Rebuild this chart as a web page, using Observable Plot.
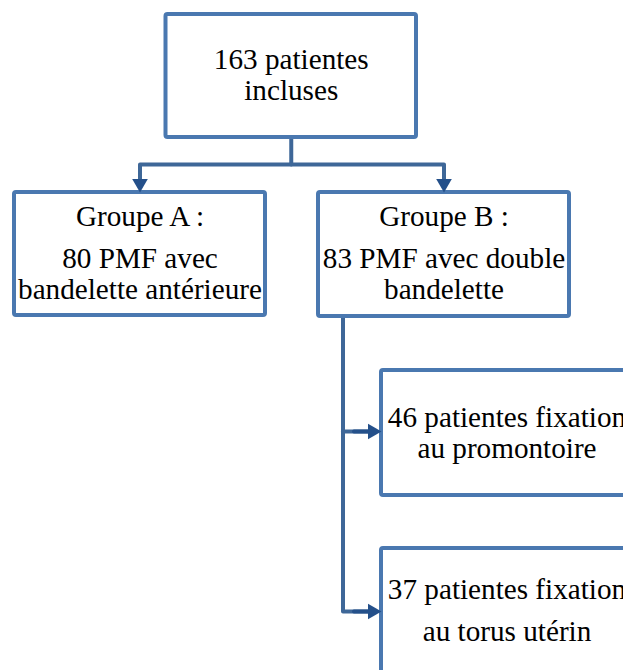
<!DOCTYPE html>
<html><head><meta charset="utf-8">
<script src="https://cdn.jsdelivr.net/npm/d3@7"></script>
<script src="https://cdn.jsdelivr.net/npm/@observablehq/plot@0.6"></script>
<style>body{margin:0;background:#fff}</style></head>
<body><div id="chart"></div>
<script>
// Data: box identifiers and their text lines
const boxIds = ["root", "A", "B", "C", "D"];
const boxLines = [
  ["163 patientes", "incluses"],
  ["Groupe A :", "80 PMF avec", "bandelette antérieure"],
  ["Groupe B :", "83 PMF avec double", "bandelette"],
  ["46 patientes fixation", "au promontoire"],
  ["37 patientes fixation", "au torus utérin"]
];
const links = [["root", "A"], ["root", "B"], ["B", "C"], ["B", "D"]];

// Layout (pixel geometry of the diagram)
const layout = {
  root: {x1: 165.5, x2: 416, y1: 14, y2: 137, base: [68, 99]},
  A:    {x1: 14,    x2: 265, y1: 192, y2: 315, base: [225, 267, 298]},
  B:    {x1: 318,   x2: 569, y1: 192, y2: 316, base: [225, 267, 298]},
  C:    {x1: 381,   x2: 632, y1: 370, y2: 495, base: [426, 457]},
  D:    {x1: 381,   x2: 632, y1: 548, y2: 690, base: [598, 640]}
};
const FONT = "'Liberation Serif', Tinos, 'Times New Roman', Times, 'Nimbus Roman', 'Nimbus Roman No9 L', FreeSerif, 'DejaVu Serif', 'Noto Serif', serif";
// fit the font size so "bandelette antérieure" spans ~244px as in the reference
function measure(text, size) {
  const svg = d3.select("body").append("svg").attr("width", 10).attr("height", 10);
  const t = svg.append("text").attr("font-family", FONT).attr("font-size", size).text(text);
  const w = t.node().getComputedTextLength();
  svg.remove();
  return w;
}
const FS = Math.min(30, 28.8 * 244 / measure("bandelette antérieure", 28.8));
const boxStroke = "#4a78b0", linkStroke = "#3e6798", headFill = "#24508a";

const boxes = boxIds.map(id => ({id, ...layout[id]}));
const texts = [];
boxIds.forEach((id, i) => {
  const b = layout[id];
  boxLines[i].forEach((t, j) => texts.push({x: (b.x1 + b.x2) / 2, y: b.base[j] - 0.32 * FS, text: t}));
});

// Connector paths
const paths = [];
const heads = [];
const barY = 164;
const rootCx = (layout.root.x1 + layout.root.x2) / 2;
paths.push({id: "stem", x: rootCx, y: layout.root.y2}, {id: "stem", x: rootCx, y: barY});
const kids = links.filter(l => l[0] === "root").map(l => layout[l[1]]);
const kx = kids.map(b => (b.x1 + b.x2) / 2);
paths.push({id: "bar", x: kx[0], y: layout.A.y1 - 8}, {id: "bar", x: kx[0], y: barY},
           {id: "bar", x: kx[1], y: barY}, {id: "bar", x: kx[1], y: layout.B.y1 - 8});
kids.forEach((b, i) => heads.push({x: kx[i], y: b.y1 - 9, rot: 180}));
const spineX = 342.5;
const armY = {C: 431, D: 611};
paths.push({id: "spine", x: spineX, y: layout.B.y2}, {id: "spine", x: spineX, y: armY.D},
           {id: "spine", x: layout.D.x1 - 10, y: armY.D});
paths.push({id: "armC", x: spineX, y: armY.C}, {id: "armC", x: layout.C.x1 - 10, y: armY.C});
["C", "D"].forEach(k => heads.push({x: layout[k].x1 - 9, y: armY[k], rot: 90}));
const darkShafts = [];
["C", "D"].forEach(k => darkShafts.push({id: k, x: spineX + 11, y: armY[k]}, {id: k, x: layout[k].x1 - 10, y: armY[k]}));

const chart = Plot.plot({
  width: 623, height: 670, margin: 0,
  style: {fontFamily: FONT, background: "white"},
  x: {domain: [0, 623], range: [0, 623], axis: null},
  y: {domain: [0, 670], range: [0, 670], axis: null},
  marks: [
    Plot.line(paths, {x: "x", y: "y", z: "id", stroke: linkStroke, strokeWidth: 4, strokeLinejoin: "round", curve: "linear"}),
    Plot.line(darkShafts, {x: "x", y: "y", z: "id", stroke: headFill, strokeWidth: 4}),
    Plot.rect(boxes, {x1: "x1", x2: "x2", y1: "y1", y2: "y2", fill: "white", stroke: boxStroke, strokeWidth: 4, rx: 2}),
    Plot.dot(heads, {x: "x", y: "y", rotate: "rot", symbol: "triangle", r: 5.8, fill: headFill, stroke: "none"}),
    Plot.text(texts, {x: "x", y: "y", text: "text", fontSize: FS, fontFamily: FONT, fill: "black", textAnchor: "middle", lineAnchor: "middle"})
  ]
});
document.getElementById("chart").append(chart);
</script>
</body></html>
